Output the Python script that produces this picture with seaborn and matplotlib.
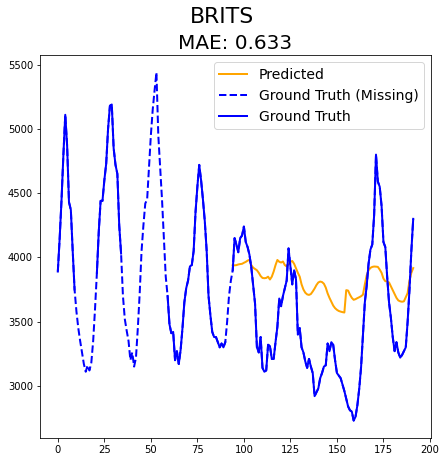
import numpy as np
import pandas as pd
import matplotlib
matplotlib.use("Agg")
import matplotlib.pyplot as plt
import seaborn as sns

# Ground truth series, one value per time step (0..191)
ground_truth = [
    3890, 4150, 4450, 4800, 5110, 4870, 4430, 4370, 4050, 3750,
    3580, 3450, 3350, 3260, 3170, 3110, 3160, 3120, 3180, 3350,
    3600, 3880, 4200, 4440, 4440, 4600, 4730, 5000, 5180, 5190,
    4850, 4720, 4650, 4250, 4030, 3700, 3520, 3430, 3350, 3200,
    3260, 3150, 3220, 3450, 3720, 4050, 4250, 4420, 4450, 4700,
    4950, 5150, 5300, 5440, 4950, 4700, 4450, 4150, 3850, 3700,
    3480, 3410, 3420, 3200, 3270, 3170, 3280, 3450, 3650, 3760,
    3820, 3930, 3940, 4050, 4350, 4550, 4720, 4600, 4450, 4280,
    4050, 3700, 3550, 3420, 3380, 3380, 3340, 3300, 3330, 3300,
    3340, 3500, 3700, 3820, 3900, 4150, 4100, 4040, 4150, 4170,
    4240, 4120, 4080, 4020, 3920, 3780, 3640, 3300, 3260, 3380,
    3140, 3110, 3120, 3320, 3310, 3210, 3210, 3340, 3460, 3680,
    3620, 3700, 3760, 3820, 4070, 3930, 3790, 3900, 3830, 3400,
    3450, 3300, 3260, 3190, 3140, 3210, 3150, 3100, 2920, 2950,
    2980, 3060, 3100, 3150, 3160, 3330, 3270, 3340, 3320, 3200,
    3100, 3080, 3060, 3010, 2960, 2900, 2840, 2810, 2800, 2730,
    2760, 2850, 2980, 3150, 3400, 3650, 3780, 3950, 4060, 4100,
    4330, 4800, 4590, 4550, 4400, 4120, 4080, 3850, 3650, 3530,
    3380, 3270, 3340, 3260, 3220, 3240, 3270, 3300, 3500, 3750,
    4050, 4300,
]

# time steps that were missing (inclusive ranges)
missing_ranges = [(10, 20), (35, 58), (91, 93)]

# Predicted (imputed) values, starting at step 94
pred_start = 94
predicted = [
    3940, 3938, 3940, 3945, 3948, 3950, 3958, 3965, 3975, 3982,
    3940, 3920, 3910, 3900, 3880, 3855, 3840, 3838, 3840, 3850,
    3828, 3850, 3890, 3940, 3980, 3966, 3960, 3968, 3940, 3930,
    3950, 3965, 3972, 3950, 3915, 3880, 3850, 3790, 3750, 3725,
    3712, 3708, 3715, 3735, 3758, 3785, 3805, 3812, 3808, 3795,
    3765, 3720, 3685, 3655, 3625, 3605, 3592, 3583, 3578, 3574,
    3571, 3745, 3742, 3710, 3685, 3670, 3675, 3683, 3690, 3698,
    3710, 3790, 3860, 3900, 3918, 3926, 3929, 3928, 3926, 3905,
    3880, 3835, 3815, 3812, 3805, 3775, 3745, 3715, 3685, 3665,
    3658, 3655, 3658, 3690, 3722, 3820, 3880, 3917,
]

model_name = "BRITS"
mae = 0.633

steps = np.arange(len(ground_truth))
gt = pd.DataFrame({"t": steps, "value": ground_truth})
missing = np.zeros(len(gt), dtype=bool)
for a, b in missing_ranges:
    missing[a:b + 1] = True
gt["missing"] = missing
# split observed points into contiguous segments
gt["segment"] = (gt["missing"] != gt["missing"].shift()).cumsum()

pred = pd.DataFrame({"t": np.arange(pred_start, pred_start + len(predicted)),
                     "value": predicted})

fig, ax = plt.subplots(figsize=(445 / 72, 462 / 72), dpi=72)
fig.subplots_adjust(left=0.09, right=0.9685, top=0.881, bottom=0.052)

sns.lineplot(data=pred, x="t", y="value", color="orange", linewidth=2,
             label="Predicted", ax=ax)
sns.lineplot(data=gt, x="t", y="value", color="blue", linewidth=2,
             linestyle="--", label="Ground Truth (Missing)", ax=ax)

first = True
for seg, sub in gt[~gt["missing"]].groupby("segment"):
    sns.lineplot(data=sub, x="t", y="value", color="blue", linewidth=2,
                 label="Ground Truth" if first else None, ax=ax)
    first = False

ax.set_xlabel("")
ax.set_ylabel("")
ax.set_title(f"MAE: {mae:.3f}", fontsize=20)
fig.suptitle(model_name, fontsize=22, y=0.985)
ax.tick_params(labelsize=10)
ax.legend(loc="upper right", fontsize=14)

plt.savefig("out.png", dpi=72)
plt.close()
